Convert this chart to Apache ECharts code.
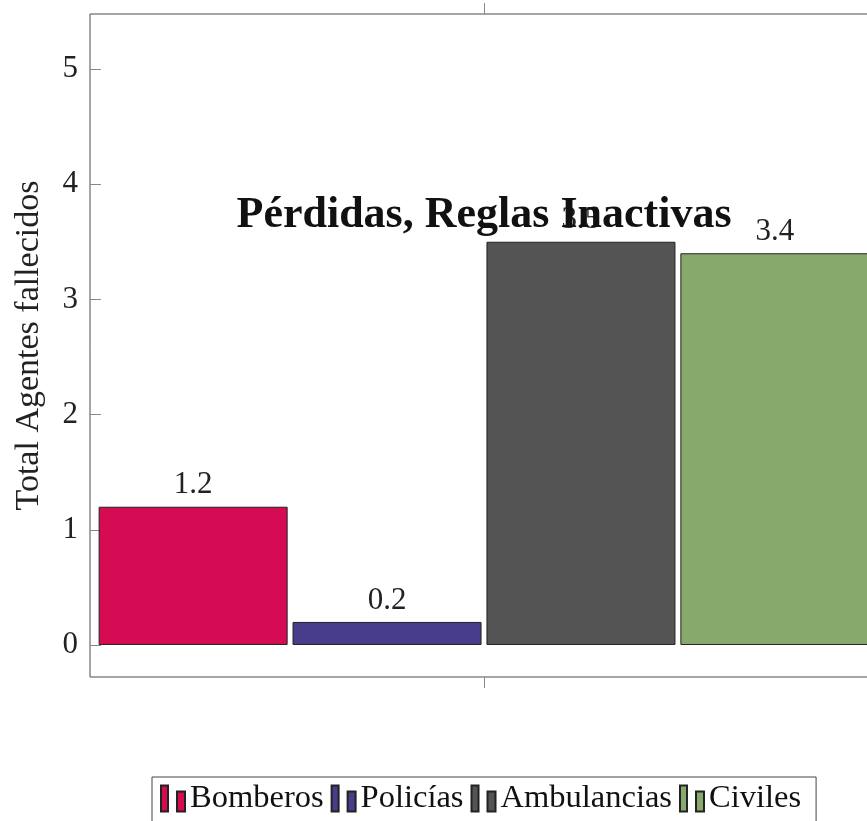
<!DOCTYPE html>
<html>
<head>
<meta charset="utf-8">
<script src="https://cdn.jsdelivr.net/npm/echarts@6/dist/echarts.min.js"></script>
<style>
  html, body { margin: 0; padding: 0; background: #ffffff; }
  #chart { width: 867px; height: 821px; }
</style>
</head>
<body>
<div id="chart"></div>
<script>
// Single category, four series of fatalities
const categories = [''];
const seriesNames = ['Bomberos', 'Policías', 'Ambulancias', 'Civiles'];
const bomberos = [1.2];
const policias = [0.2];
const ambulancias = [3.5];
const civiles = [3.4];
const yTicks = [0, 1, 2, 3, 4, 5];
const colors = ['#d50b53', '#483d8b', '#545454', '#87a96b'];

const FONT = '"Liberation Serif", "Times New Roman", serif';
const values = [bomberos, policias, ambulancias, civiles];

// Legend glyph: two upright bars of different heights
const barIcon = 'path://M0,0 L7,0 L7,26 L0,26 Z M16,6 L24,6 L24,26 L16,26 Z';

const chart = echarts.init(document.getElementById('chart'), null, { renderer: 'canvas' });

const series = seriesNames.map((name, i) => ({
  name: name,
  type: 'bar',
  data: values[i],
  barWidth: 189,
  barGap: '2.6%',
  itemStyle: { color: colors[i], borderColor: '#222222', borderWidth: 1 },
  label: {
    show: true,
    position: 'top',
    distance: 6,
    fontFamily: FONT,
    fontSize: 31,
    color: '#222222'
  }
}));

const xAxisBase = {
  type: 'category',
  data: categories,
  axisLine: { show: false, onZero: false },
  axisLabel: { show: false },
  splitLine: { show: false },
  axisTick: { show: true, alignWithLabel: true, length: 11, lineStyle: { color: '#888888', width: 1 } }
};

chart.setOption({
  animation: false,
  backgroundColor: '#ffffff',
  title: {
    text: 'Pérdidas, Reglas Inactivas',
    left: 479,
    top: 189,
    textAlign: 'center',
    textStyle: { fontFamily: FONT, fontWeight: 'bold', fontSize: 44, color: '#111111' }
  },
  grid: {
    left: 90,
    top: 14,
    width: 788,
    height: 663,
    outerBoundsMode: 'none',
    show: true,
    borderColor: '#4d4d4d',
    borderWidth: 1,
    backgroundColor: 'transparent'
  },
  legend: {
    data: seriesNames,
    left: 152,
    top: 777,
    padding: [5, 15, 20, 8],
    itemGap: 7,
    itemWidth: 24,
    itemHeight: 26,
    icon: barIcon,
    borderColor: '#444444',
    borderWidth: 1,
    textStyle: { fontFamily: FONT, fontSize: 32.5, color: '#111111', padding: [5, 0, 0, 0] }
  },
  xAxis: [
    Object.assign({ position: 'bottom' }, xAxisBase),
    Object.assign({ position: 'top' }, xAxisBase)
  ],
  yAxis: {
    type: 'value',
    min: -0.278,
    max: 5.477,
    name: 'Total Agentes fallecidos',
    nameLocation: 'middle',
    nameGap: 44,
    nameRotate: 90,
    nameTextStyle: { fontFamily: FONT, fontSize: 34, color: '#222222' },
    axisLine: { show: false },
    splitLine: { show: false },
    axisTick: {
      show: true,
      inside: true,
      length: 11,
      customValues: yTicks,
      lineStyle: { color: '#888888', width: 1 }
    },
    axisLabel: {
      show: true,
      customValues: yTicks,
      margin: 12,
      fontFamily: FONT,
      fontSize: 31,
      color: '#222222',
      formatter: v => String(v)
    }
  },
  series: series
});
</script>
</body>
</html>
